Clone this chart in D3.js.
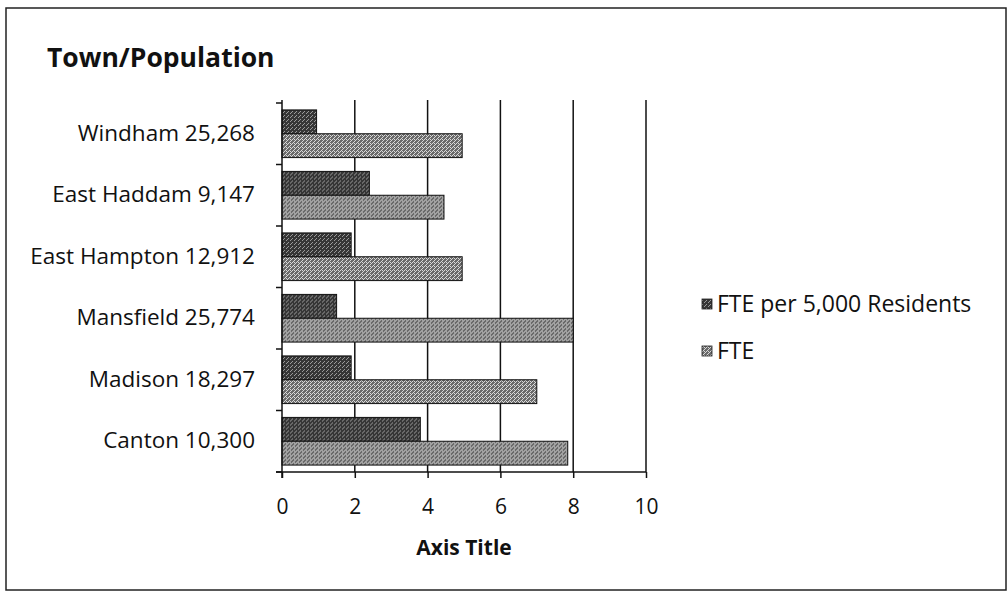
<!DOCTYPE html>
<html>
<head>
<meta charset="utf-8">
<script src="https://cdn.jsdelivr.net/npm/d3@7"></script>
<style>
  body { margin: 0; background: #fff; }
  text { font-family: "Open Sans", sans-serif; fill: #111; }
</style>
</head>
<body>
<svg id="canvas" width="1008" height="598"></svg>
<script>
// chart values
var towns = ["Windham 25,268", "East Haddam 9,147", "East Hampton 12,912",
             "Mansfield 25,774", "Madison 18,297", "Canton 10,300"];
var series = ["FTE per 5,000 Residents", "FTE"];
var ftePer5000 = [0.95, 2.4, 1.9, 1.5, 1.9, 3.8];
var fte = [4.95, 4.45, 4.95, 8, 7, 7.85];
var xTicks = [0, 2, 4, 6, 8, 10];

var svg = d3.select("#canvas");

// halftone-ish fills like the scanned print
var defs = svg.append("defs");
function dither(id, base, dot, dots) {
    var p = defs.append("pattern")
        .attr("id", id)
        .attr("width", 4).attr("height", 4)
        .attr("patternUnits", "userSpaceOnUse");
    p.append("rect").attr("width", 4).attr("height", 4).attr("fill", base);
    dots.forEach(function(d) {
        p.append("rect").attr("x", d[0]).attr("y", d[1])
            .attr("width", 1).attr("height", 1).attr("fill", dot);
    });
}
dither("darkFill", "#363636", "#9a9a9a", [[0, 0], [2, 2], [3, 1]]);
dither("lightFill", "#6a6a6a", "#d8d8d8", [[0, 0], [2, 2], [1, 3], [3, 1], [2, 0]]);
var fills = ["url(#darkFill)", "url(#lightFill)"];

// outer frame
svg.append("rect")
    .attr("x", 6).attr("y", 8)
    .attr("width", 1000).attr("height", 582)
    .attr("fill", "none")
    .attr("stroke", "#222")
    .attr("stroke-width", 1.5);

svg.append("text")
    .attr("x", 47).attr("y", 67)
    .style("font-size", "26.5px")
    .style("font-weight", "bold")
    .text("Town/Population");

var x = d3.scaleLinear().domain([0, 10]).range([282, 646]);
var y = d3.scaleBand().domain(towns).range([103, 472])
    .paddingInner(0).paddingOuter(0);
var sub = d3.scaleBand().domain(series).range([0, y.bandwidth()])
    .paddingInner(0).paddingOuter(0.29);

// vertical gridlines
svg.append("g")
    .selectAll("line")
    .data(xTicks.filter(function(d) { return d > 0; }))
    .enter().append("line")
    .attr("x1", function(d) { return x(d); })
    .attr("x2", function(d) { return x(d); })
    .attr("y1", 100).attr("y2", 472)
    .attr("stroke", "#111")
    .attr("stroke-width", 1.5);

// bars
var rows = towns.map(function(t, i) { return {town: t, vals: [ftePer5000[i], fte[i]]}; });
var grp = svg.append("g").selectAll("g")
    .data(rows)
    .enter().append("g")
    .attr("transform", function(d) { return "translate(0," + y(d.town) + ")"; });
grp.selectAll("rect")
    .data(function(d) { return d.vals.map(function(v, k) { return {s: series[k], v: v, k: k}; }); })
    .enter().append("rect")
    .attr("x", x(0))
    .attr("y", function(d) { return sub(d.s); })
    .attr("width", function(d) { return x(d.v) - x(0); })
    .attr("height", sub.bandwidth())
    .attr("fill", function(d) { return fills[d.k]; })
    .attr("stroke", "#111")
    .attr("stroke-width", 1);

// x axis
var xAxis = svg.append("g")
    .attr("transform", "translate(0,472)")
    .call(d3.axisBottom(x).tickValues(xTicks).tickSize(6).tickPadding(21).tickSizeOuter(0));
xAxis.select(".domain").attr("stroke", "#111").attr("stroke-width", 1.5)
    .attr("d", "M276,0H" + x(10));
xAxis.selectAll(".tick line").attr("stroke", "#111").attr("stroke-width", 1.5);
xAxis.selectAll(".tick text").style("font-size", "21px").attr("fill", "#111");

svg.append("text")
    .attr("x", 464).attr("y", 555)
    .attr("text-anchor", "middle")
    .style("font-size", "21px")
    .style("font-weight", "bold")
    .text("Axis Title");

// y axis: line, ticks at band edges, labels at band centres
var yAxis = svg.append("g")
    .attr("transform", "translate(282,0)")
    .call(d3.axisLeft(y).tickSize(0).tickPadding(27));
yAxis.select(".domain").attr("stroke", "#111").attr("stroke-width", 1.5)
    .attr("d", "M0,100V478");
yAxis.selectAll(".tick text").style("font-size", "22.5px").attr("fill", "#111");
var edges = towns.map(function(t) { return y(t); }).concat([472]);
yAxis.selectAll(".edge")
    .data(edges)
    .enter().append("line")
    .attr("class", "edge")
    .attr("x1", -6).attr("x2", 0)
    .attr("y1", function(d) { return d; })
    .attr("y2", function(d) { return d; })
    .attr("stroke", "#111")
    .attr("stroke-width", 1.5);

// legend
var legend = svg.append("g").selectAll("g")
    .data(series)
    .enter().append("g")
    .attr("transform", function(d, i) { return "translate(702," + (304 + i * 47) + ")"; });
legend.append("rect")
    .attr("x", 0).attr("y", -5)
    .attr("width", 10).attr("height", 10)
    .attr("fill", function(d, i) { return fills[i]; })
    .attr("stroke", "#222")
    .attr("stroke-width", 0.8);
legend.append("text")
    .attr("x", 15).attr("y", 0)
    .attr("dy", "0.35em")
    .style("font-size", "23px")
    .text(function(d) { return d; });
</script>
</body>
</html>
